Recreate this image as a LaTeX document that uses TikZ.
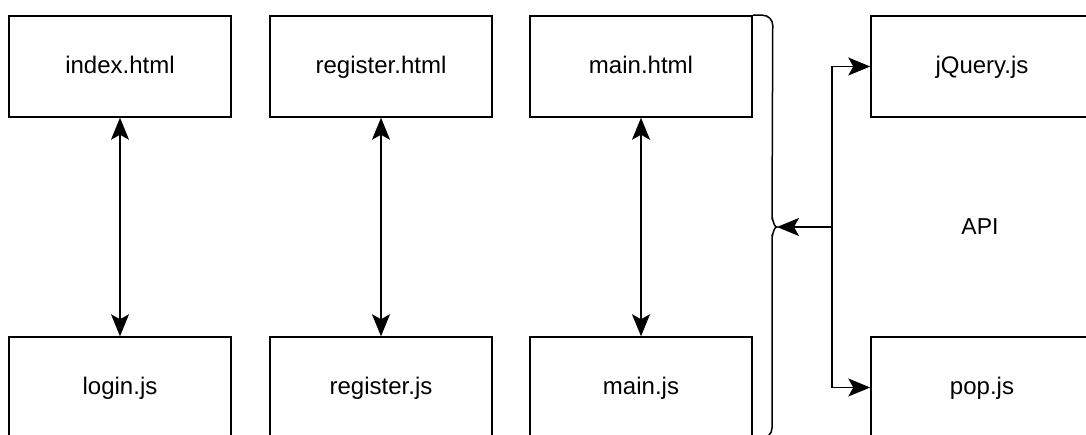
\documentclass[tikz,border=0pt]{standalone}
\usepackage{fontspec}
\setmainfont{Liberation Sans}
\usetikzlibrary{arrows.meta}

\begin{document}
\begin{tikzpicture}[x=1pt,y=-1pt,line width=1.5pt,>={Stealth[length=22pt,width=18pt,inset=5pt]},
	filebox/.style={draw,minimum width=222pt,minimum height=101pt,inner sep=0pt,text height=18pt,text depth=4pt,font=\fontsize{24}{28}\selectfont}]
	\clip (0,0) rectangle (1086,435);
	\node [filebox] (index) at (120,66.5) {index.html};
	\node [filebox] (register) at (381,66.5) {register.html};
	\node [filebox] (main) at (641,66.5) {main.html};
	\node [filebox] (login) at (120,387.5) {login.js};
	\node [filebox] (registerjs) at (381,387.5) {register.js};
	\node [filebox] (mainjs) at (641,387.5) {main.js};
	\node [filebox] (jquery) at (982,66.5) {jQuery.js};
	\node [filebox] (pop) at (982,387.5) {pop.js};
	\node [font=\fontsize{23}{27}\selectfont] (api) at (980,227) {API};
	\coordinate (tip) at (777,227);
	\coordinate (hub) at (832,227);
	\draw [<->] (index) -- (login);
	\draw [<->] (register) -- (registerjs);
	\draw [<->] (main) -- (mainjs);
	\draw (main.north east) -- ++(10,0) arc [start angle=-90,end angle=0,radius=10] -- (772,217) to [out=90,in=180] (tip) to [out=180,in=-90] (772,237) -- (772,428) arc [start angle=0,end angle=90,radius=10] -- ++(-10,0);
	\draw [->] (hub) -- (tip);
	\draw [->] (hub) |- (jquery.west);
	\draw [->] (hub) |- (pop.west);
\end{tikzpicture}
\end{document}
